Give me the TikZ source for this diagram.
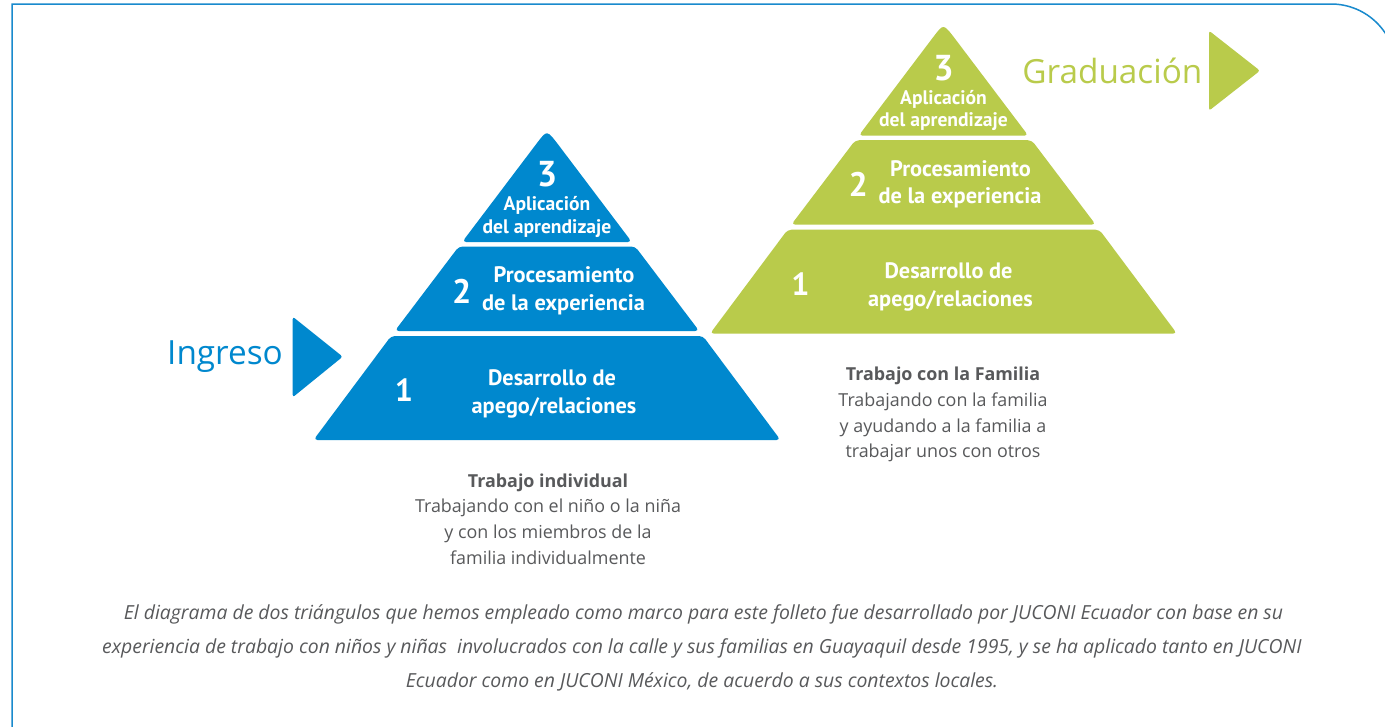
\documentclass[tikz,border=0pt]{standalone}
\usepackage{fontspec}
\setmainfont{Open Sans}
\newfontfamily\ptsans{PT Sans}
\definecolor{jblue}{RGB}{0,136,206}
\definecolor{jgreen}{RGB}{185,203,75}
\definecolor{framec}{RGB}{25,138,205}
\definecolor{capgray}{RGB}{88,89,91}
\newcommand\pyramidshape[1]{%
  \fill[#1] (-11.5,15) .. controls (0,0) .. (11.5,15) [rounded corners=4pt] -- (84.8,112) -- (-84.8,112) -- cycle;
  \fill[#1, rounded corners=4pt] (-88.2,116.5) -- (88.2,116.5) -- (152.2,201) -- (-152.2,201) -- cycle;
  \fill[#1, rounded corners=4pt] (-155.9,206) -- (155.9,206) -- (233.5,310) -- (-233.5,310) -- cycle;
}
\newcommand\pyramidtext[1]{%
  \node[dig=36] (#1n3) at (0,56.7) {3};
  \node[toplbl] (#1t3a) at (0,80.7) {Aplicación};
  \node[toplbl] (#1t3b) at (0,103) {del aprendizaje};
  \node[dig=34] (#1n2) at (-85.3,173) {2};
  \node[midlbl] (#1t2a) at (17,152.7) {Procesamiento};
  \node[midlbl] (#1t2b) at (16.5,180) {de la experiencia};
  \node[dig=32] (#1n1) at (-143,271.7) {1};
  \node[botlbl] (#1t1a) at (5,255) {Desarrollo de};
  \node[botlbl] (#1t1b) at (7,283) {apego/relaciones};
}
\tikzset{
  toplbl/.style={text=white, inner sep=0pt, anchor=base, font=\ptsans\bfseries\fontsize{19.6}{22}\selectfont},
  midlbl/.style={text=white, inner sep=0pt, anchor=base, font=\ptsans\bfseries\fontsize{22.4}{24}\selectfont},
  botlbl/.style={text=white, inner sep=0pt, anchor=base, font=\ptsans\bfseries\fontsize{22.3}{24}\selectfont},
  dig/.style={text=white, inner sep=0pt, anchor=base, font=\ptsans\bfseries\fontsize{#1}{#1}\selectfont},
  captxt/.style={text=capgray, inner sep=0pt, anchor=base, font=\fontsize{17.9}{20}\selectfont},
  captitle/.style={text=capgray, inner sep=0pt, anchor=base, font=\bfseries\fontsize{17.9}{20}\selectfont},
  notetxt/.style={text=capgray, inner sep=0pt, anchor=base, font=\itshape\fontsize{19.4}{22}\selectfont},
  outline/.style={draw=framec, line width=1.5pt},
  bigword/.style={inner sep=0pt, font=\fontsize{33.3}{40}\selectfont},
  pointer/.style={rounded corners=2.5pt}
}
\begin{document}
\begin{tikzpicture}[x=1pt,y=-1pt]
\useasboundingbox (0,0) rectangle (1385,726);
\fill[white] (0,0) rectangle (1385,726);
\begin{scope}
  \clip (0,0) rectangle (1385,726);
  \draw[outline] (12,740) -- (12,4) -- (1331,4) .. controls (1367,4) and (1396,33) .. (1396,69) -- (1396,100);
\end{scope}

% blue pyramid
\begin{scope}[shift={(547,130)}]
  \pyramidshape{jblue}
  \pyramidtext{b}
\end{scope}
% green pyramid
\begin{scope}[shift={(943.5,23.7)}]
  \pyramidshape{jgreen}
  \pyramidtext{g}
\end{scope}

% pointers
\fill[jblue, pointer] (292.7,316.7) -- (342.7,356.7) -- (292.7,397.3) -- cycle;
\fill[jgreen, pointer] (1209,30.7) -- (1260,70.7) -- (1209,110.7) -- cycle;
\node[bigword, text=jblue, anchor=base east] (ingreso) at (283,364.3) {Ingreso};
\node[bigword, text=jgreen, anchor=base east] (graduacion) at (1202.5,83.3) {Graduación};

% captions
\node[captitle] (c1a) at (548,487) {Trabajo individual};
\node[captxt] (c1b) at (548,512.7) {Trabajando con el niño o la niña};
\node[captxt] (c1c) at (548,538.4) {y con los miembros de la};
\node[captxt] (c1d) at (548,564.1) {familia individualmente};

\node[captitle] (c2a) at (943,380.7) {Trabajo con la Familia};
\node[captxt] (c2b) at (943,406.4) {Trabajando con la familia};
\node[captxt] (c2c) at (943,432.1) {y ayudando a la familia a};
\node[captxt] (c2d) at (943,457.8) {trabajar unos con otros};

% note
\node[notetxt] (n1) at (703.5,619.3) {El diagrama de dos triángulos que hemos empleado como marco para este folleto fue desarrollado por JUCONI Ecuador con base en su};
\node[notetxt] (n2) at (702,653.3) {experiencia de trabajo con niños y niñas\ \ involucrados con la calle y sus familias en Guayaquil desde 1995, y se ha aplicado tanto en JUCONI};
\node[notetxt] (n3) at (702,687.3) {Ecuador como en JUCONI México, de acuerdo a sus contextos locales.};
\end{tikzpicture}
\end{document}
